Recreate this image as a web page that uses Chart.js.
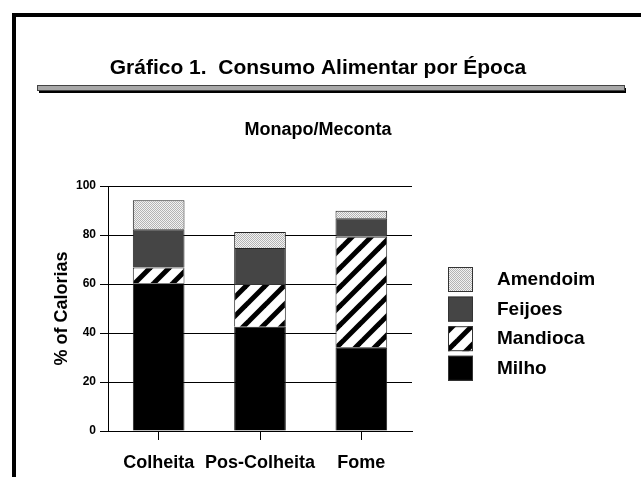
<!DOCTYPE html>
<html>
<head>
<meta charset="utf-8">
<script src="https://cdn.jsdelivr.net/npm/chart.js@4.4.1/dist/chart.umd.min.js"></script>
<style>
  html, body { margin: 0; padding: 0; background: #fff; }
  canvas { display: block; }
</style>
</head>
<body>
<canvas id="grafico" width="641" height="477"></canvas>
<script>
// Datos (% de calorias por epoca)
const epocas = ['Colheita', 'Pos-Colheita', 'Fome'];
const milho = [60.3, 42.6, 34.2];
const mandioca = [6.4, 17.4, 45.1];
const feijoes = [15.6, 14.7, 7.5];
const amendoim = [11.9, 6.5, 3.1];
const ticksY = [0, 20, 40, 60, 80, 100];

const fuente = '"Liberation Sans", Arial, sans-serif';
Chart.defaults.font.family = fuente;
Chart.defaults.color = '#000';

// Patron de rayas diagonales (Mandioca)
function patronRayas() {
    const c = document.createElement('canvas');
    c.width = 19; c.height = 19;
    const g = c.getContext('2d');
    g.fillStyle = '#fff';
    g.fillRect(0, 0, 19, 19);
    g.strokeStyle = '#000';
    g.lineWidth = 5;
    for (let k = -1; k <= 1; k++) {
        g.beginPath();
        g.moveTo(-19 + k * 19, 38);
        g.lineTo(38 + k * 19, -19);
        g.stroke();
    }
    return g.createPattern(c, 'repeat');
}

// Patron punteado (Amendoim)
function patronPuntos() {
    const c = document.createElement('canvas');
    c.width = 2; c.height = 2;
    const g = c.getContext('2d');
    g.fillStyle = '#f2f2f2';
    g.fillRect(0, 0, 2, 2);
    g.fillStyle = '#b4b4b4';
    g.fillRect(0, 0, 1, 1);
    g.fillRect(1, 1, 1, 1);
    return g.createPattern(c, 'repeat');
}

// Marco, titulos y leyenda dibujados a mano
const decoracion = {
    id: 'decoracion',
    beforeDraw(chart) {
        const ctx = chart.ctx;
        ctx.save();
        ctx.fillStyle = '#000';
        ctx.fillRect(12, 13, 641 - 12, 4);
        ctx.fillRect(12, 13, 4, 477 - 13);
        // linea doble bajo el titulo
        ctx.fillRect(39, 88, 587, 5);
        ctx.fillStyle = '#a8a8a8';
        ctx.fillRect(37, 86, 587, 5);
        ctx.strokeStyle = '#444';
        ctx.lineWidth = 1;
        ctx.strokeRect(37.5, 85.5, 587, 5);
        ctx.restore();
    },
    afterDraw(chart) {
        const ctx = chart.ctx;
        ctx.save();
        ctx.fillStyle = '#000';
        ctx.textAlign = 'center';
        ctx.textBaseline = 'middle';
        ctx.font = 'bold 21px ' + fuente;
        ctx.fillText('Gráfico 1.  Consumo Alimentar por Época', 318, 68);
        ctx.font = 'bold 18px ' + fuente;
        ctx.fillText('Monapo/Meconta', 318, 130);

        // leyenda (orden inverso al apilado)
        const sets = chart.data.datasets.slice().reverse();
        ctx.textAlign = 'left';
        ctx.font = 'bold 19px ' + fuente;
        sets.forEach((ds, i) => {
            const y = 267 + i * 29.6;
            ctx.fillStyle = ds.backgroundColor;
            ctx.fillRect(448, y, 25, 25);
            ctx.strokeStyle = '#333';
            ctx.strokeRect(448.5, y + 0.5, 24, 24);
            ctx.fillStyle = '#000';
            ctx.fillText(ds.label, 497, y + 13);
        });
        ctx.restore();
    }
};

const ctx = document.getElementById('grafico').getContext('2d');

const grafico = new Chart(ctx, {
    type: 'bar',
    data: {
        labels: epocas,
        datasets: [
            { label: 'Milho', data: milho, backgroundColor: '#000', borderColor: '#222', borderWidth: 1 },
            { label: 'Mandioca', data: mandioca, backgroundColor: patronRayas(), borderColor: '#333', borderWidth: 1 },
            { label: 'Feijoes', data: feijoes, backgroundColor: '#454545', borderColor: '#222', borderWidth: 1 },
            { label: 'Amendoim', data: amendoim, backgroundColor: patronPuntos(), borderColor: '#222', borderWidth: 1 }
        ]
    },
    options: {
        responsive: false,
        animation: false,
        layout: { padding: { left: 45, right: 229, top: 186, bottom: 0 } },
        datasets: { bar: { categoryPercentage: 1, barPercentage: 0.51 } },
        plugins: {
            legend: { display: false },
            tooltip: { enabled: false }
        },
        scales: {
            x: {
                stacked: true,
                grid: { display: true, drawOnChartArea: false, offset: false, color: '#000', tickLength: 9 },
                border: { display: true, color: '#000' },
                ticks: { font: { size: 18, weight: 'bold' }, padding: 12, autoSkip: false, maxRotation: 0, minRotation: 0 },
                afterFit: s => { s.height = 46; }
            },
            y: {
                stacked: true,
                min: 0,
                max: 100,
                afterBuildTicks: s => { s.ticks = ticksY.map(v => ({ value: v })); },
                grid: { color: '#000', tickLength: 8 },
                border: { display: true, color: '#000' },
                ticks: { font: { size: 12, weight: 'bold' }, padding: 4 },
                title: {
                    display: true,
                    text: '% of Calorias',
                    font: { size: 18, weight: 'bold' },
                    padding: { top: 6, bottom: 0 }
                },
                afterFit: s => { s.width = 63; }
            }
        }
    },
    plugins: [decoracion]
});
</script>
</body>
</html>
